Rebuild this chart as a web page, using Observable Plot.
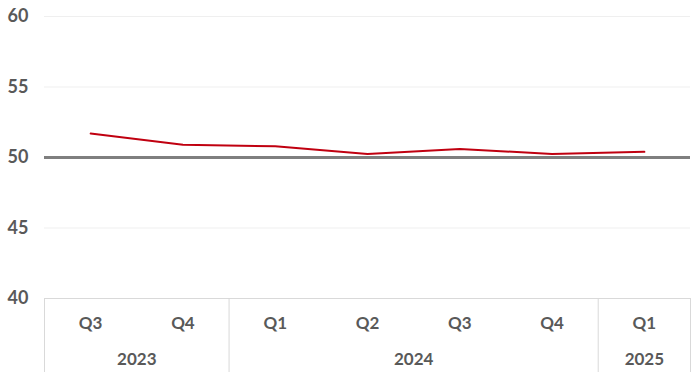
<!DOCTYPE html>
<html><head><meta charset="utf-8">
<script src="https://cdn.jsdelivr.net/npm/d3@7"></script>
<script src="https://cdn.jsdelivr.net/npm/@observablehq/plot@0.6"></script>
<style>body{margin:0;background:#fff}</style>
</head><body><div id="chart"></div>
<script>
const quarters = ["Q3","Q4","Q1","Q2","Q3","Q4","Q1"];
const values = [51.7, 50.9, 50.8, 50.25, 50.6, 50.25, 50.4];
const years = ["2023","2024","2025"];
const yearSpans = [[0,2],[2,6],[6,7]];
const yTicks = [40,45,50,55,60];
const threshold = 50;

const pts = quarters.map((q,i)=>({i:i+0.5, q, v:values[i]}));
const yrs = years.map((y,k)=>({y, x:(yearSpans[k][0]+yearSpans[k][1])/2}));
const seps = [0,2,6,7];
const font = "Lato, 'Open Sans', sans-serif";

const chart = Plot.plot({
  width:700, height:377,
  marginLeft:44, marginRight:10, marginTop:16, marginBottom:79,
  style:{fontFamily:font, background:"#fff"},
  x:{domain:[0,7], axis:null},
  y:{domain:[40,60], ticks:yTicks},
  marks:[
    Plot.ruleY(yTicks.filter(t=>t!==40 && t!==threshold), {stroke:"#efefef", strokeWidth:1}),
    Plot.ruleY([40], {stroke:"#d9d9d9", strokeWidth:1}),
    Plot.ruleX(seps, {y1:40, y2:34.75, stroke:"#d9d9d9", strokeWidth:1}),
    Plot.ruleY([threshold], {stroke:"#7f7f7f", strokeWidth:3}),
    Plot.line(pts, {x:"i", y:"v", stroke:"#c00010", strokeWidth:2}),
    Plot.axisY({ticks:yTicks, tickSize:0, tickPadding:16, fontSize:18, fontWeight:"bold", fill:"#595959", label:null}),
    Plot.text(pts, {x:"i", y:40, text:"q", dy:25, fontSize:17, fontWeight:"bold", fill:"#595959"}),
    Plot.text(yrs, {x:"x", y:40, text:"y", dy:61, fontSize:17, fontWeight:"bold", fill:"#595959"})
  ]
});
document.getElementById("chart").append(chart);
</script></body></html>
